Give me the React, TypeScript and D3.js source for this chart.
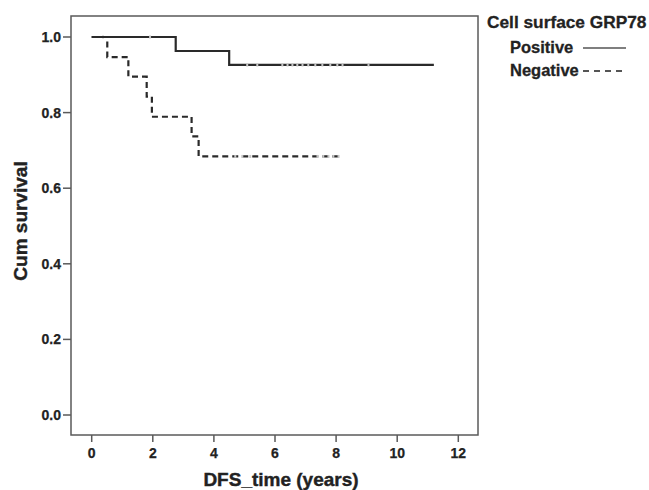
import React, { useEffect, useRef } from 'react';
import * as d3 from 'd3';

// step curves
const positiveTime = [0, 2.75, 4.5, 11.2];
const positiveSurv = [1.0, 0.963, 0.926, 0.926];
const positiveCensor = [0.37, 1.91, 5.09, 5.42, 6.24, 6.41, 6.57, 6.73, 6.9, 7.09, 7.32, 7.55, 7.81, 8.04, 8.21, 9.06];

const negativeTime = [0, 0.51, 1.2, 1.8, 1.97, 3.27, 3.5, 8.16];
const negativeSurv = [1.0, 0.947, 0.895, 0.842, 0.789, 0.737, 0.684, 0.684];
const negativeCensor = [4.7, 4.93, 5.19, 7.39, 7.58, 7.75, 7.91, 8.08];

const xTicks = [0, 2, 4, 6, 8, 10, 12];
const yTicks = [0, 0.2, 0.4, 0.6, 0.8, 1.0];

const legendTitle = 'Cell surface GRP78';
const legendLabels = ['Positive', 'Negative'];

const App = () => {
  const svgRef = useRef<SVGSVGElement>(null);

  useEffect(() => {
    const svg = d3.select(svgRef.current);
    svg.selectAll('*').remove();

    const width = 649;
    const height = 490;
    const frame = { left: 71, top: 16, right: 478, bottom: 435 };
    const font = '"Liberation Sans", Arial, sans-serif';
    const ink = '#222';

    const x = d3.scaleLinear().domain([0, 12]).range([91.7, 458.3]);
    const y = d3.scaleLinear().domain([0, 1]).range([415, 37]);

    svg.attr('width', width).attr('height', height);
    svg.append('rect').attr('width', width).attr('height', height).attr('fill', '#fff');

    // frame
    svg
      .append('rect')
      .attr('x', frame.left)
      .attr('y', frame.top)
      .attr('width', frame.right - frame.left)
      .attr('height', frame.bottom - frame.top)
      .attr('fill', 'none')
      .attr('stroke', '#5a5a5a')
      .attr('stroke-width', 1.5);

    // y axis
    const yAxis = svg.append('g').attr('transform', `translate(${frame.left},0)`);
    yAxis
      .selectAll('line')
      .data(yTicks)
      .join('line')
      .attr('x1', -8)
      .attr('x2', 0)
      .attr('y1', (d) => y(d))
      .attr('y2', (d) => y(d))
      .attr('stroke', '#5a5a5a')
      .attr('stroke-width', 1.5);
    yAxis
      .selectAll('text')
      .data(yTicks)
      .join('text')
      .attr('x', -10)
      .attr('y', (d) => y(d))
      .attr('dy', '0.36em')
      .attr('text-anchor', 'end')
      .attr('font-family', font)
      .attr('font-weight', 'bold')
      .attr('font-size', 14)
      .attr('fill', ink)
      .attr('stroke', ink)
      .attr('stroke-width', 0.25)
      .text((d) => d3.format('.1f')(d));

    // x axis
    const xAxis = svg.append('g').attr('transform', `translate(0,${frame.bottom})`);
    xAxis
      .selectAll('line')
      .data(xTicks)
      .join('line')
      .attr('x1', (d) => x(d))
      .attr('x2', (d) => x(d))
      .attr('y1', 0)
      .attr('y2', 7)
      .attr('stroke', '#5a5a5a')
      .attr('stroke-width', 1.5);
    xAxis
      .selectAll('text')
      .data(xTicks)
      .join('text')
      .attr('x', (d) => x(d))
      .attr('y', 23)
      .attr('text-anchor', 'middle')
      .attr('font-family', font)
      .attr('font-weight', 'bold')
      .attr('font-size', 14)
      .attr('fill', ink)
      .attr('stroke', ink)
      .attr('stroke-width', 0.25)
      .text((d) => d);

    // axis titles
    svg
      .append('text')
      .attr('x', 281)
      .attr('y', 486)
      .attr('text-anchor', 'middle')
      .attr('font-family', font)
      .attr('font-weight', 'bold')
      .attr('font-size', 19)
      .attr('fill', ink)
      .attr('stroke', ink)
      .attr('stroke-width', 0.4)
      .text('DFS_time (years)');
    svg
      .append('text')
      .attr('transform', 'translate(27,221) rotate(-90)')
      .attr('text-anchor', 'middle')
      .attr('font-family', font)
      .attr('font-weight', 'bold')
      .attr('font-size', 19)
      .attr('fill', ink)
      .attr('stroke', ink)
      .attr('stroke-width', 0.4)
      .text('Cum survival');

    // survival curves
    const line = d3
      .line<[number, number]>()
      .x((d) => x(d[0]))
      .y((d) => y(d[1]))
      .curve(d3.curveStepAfter);

    const stepAt = (times: number[], surv: number[], t: number) => {
      let s = surv[0];
      times.forEach((tt, i) => {
        if (tt <= t) s = surv[i];
      });
      return s;
    };

    const curves = [
      { time: positiveTime, surv: positiveSurv, censor: positiveCensor, dash: null },
      { time: negativeTime, surv: negativeSurv, censor: negativeCensor, dash: '6,4' },
    ];

    curves.forEach((c) => {
      const pts = c.time.map((t, i) => [t, c.surv[i]] as [number, number]);
      svg
        .append('path')
        .attr('d', line(pts))
        .attr('fill', 'none')
        .attr('stroke', '#2a2a2a')
        .attr('stroke-width', 2.2)
        .attr('stroke-dasharray', c.dash);
      svg
        .append('g')
        .selectAll('rect')
        .data(c.censor)
        .join('rect')
        .attr('x', (t) => x(t) - 1)
        .attr('y', (t) => y(stepAt(c.time, c.surv, t)) - 1.5)
        .attr('width', 2)
        .attr('height', 3)
        .attr('fill', '#c4c4c4');
    });

    // legend
    const legend = svg
      .append('g')
      .attr('font-family', font)
      .attr('font-weight', 'bold')
      .attr('fill', ink)
      .attr('stroke', ink)
      .attr('stroke-width', 0.3);
    legend
      .append('text')
      .attr('x', 487)
      .attr('y', 28)
      .attr('font-size', 17.3)
      .text(legendTitle);
    legendLabels.forEach((label, i) => {
      const base = 53 + i * 23;
      legend
        .append('text')
        .attr('x', 510)
        .attr('y', base)
        .attr('font-size', 16.5)
        .text(label);
      legend
        .append('line')
        .attr('x1', 583)
        .attr('x2', 626)
        .attr('y1', base - 5)
        .attr('y2', base - 5)
        .attr('stroke', '#555')
        .attr('stroke-width', i === 0 ? 1.3 : 1.8)
        .attr('stroke-dasharray', i === 0 ? null : '6,5');
    });
  }, []);

  return (
    <svg
      ref={svgRef}
      width={649}
      height={490}
      style={{ position: 'absolute', left: 0, top: 0, display: 'block' }}
    />
  );
};

export default App;
